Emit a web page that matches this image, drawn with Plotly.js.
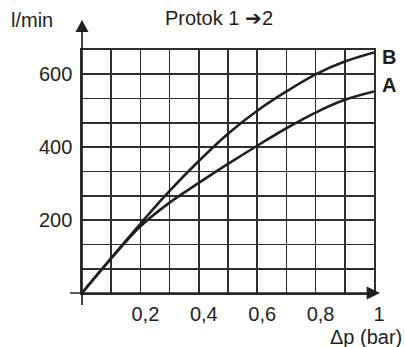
<!DOCTYPE html>
<html>
<head>
<meta charset="utf-8">
<script src="https://cdn.plot.ly/plotly-3.0.1.min.js"></script>
<style>html,body{margin:0;padding:0;background:#fff;}#chart{width:405px;height:347px;}</style>
</head>
<body>
<div id="chart"></div>
<script>
// Pressure drop (bar)
const dp = [0, 0.1, 0.2, 0.3, 0.4, 0.5, 0.6, 0.7, 0.8, 0.9, 1.0];
// Flow curve A (l/min)
const flowA = [0, 95, 183, 248, 302, 354, 404, 452, 495, 530, 553];
// Flow curve B (l/min)
const flowB = [0, 96, 190, 280, 362, 437, 500, 553, 600, 635, 660];
const seriesNames = ['A', 'B'];
// Tick labels
const xTickVals = [0.2, 0.4, 0.6, 0.8, 1];
const xTickText = ['0,2', '0,4', '0,6', '0,8', '1'];
const yTickVals = [200, 400, 600];
const yTickText = ['200', '400', '600'];
const yMax = 2000 / 3;

const ink = '#231f20';
const gridCol = '#2e2e2e';
const font = 'Liberation Sans, Arial, sans-serif';
const fs = 20;

const traces = [
  {x: dp, y: flowA, name: seriesNames[0], mode: 'lines', line: {color: ink, width: 2.6, shape: 'spline'}, cliponaxis: false},
  {x: dp, y: flowB, name: seriesNames[1], mode: 'lines', line: {color: ink, width: 2.6, shape: 'spline'}, cliponaxis: false}
];

const layout = {
  width: 405, height: 347,
  margin: {l: 82, r: 31, t: 50, b: 54},
  paper_bgcolor: '#fff', plot_bgcolor: '#fff',
  showlegend: false,
  font: {family: font, size: fs, color: ink},
  title: {text: 'Protok 1 \u27942', x: 219 / 405, xanchor: 'center', y: 1 - 18 / 347, yanchor: 'middle',
          font: {family: font, size: fs, color: ink}},
  xaxis: {
    range: [0, 1], tickmode: 'array', tickvals: xTickVals, ticktext: xTickText,
    showgrid: true, gridcolor: gridCol, gridwidth: 1.7,
    minor: {tickmode: 'linear', tick0: 0, dtick: 0.1, showgrid: true, gridcolor: gridCol, gridwidth: 1.7, ticks: ''},
    showline: true, mirror: true, linecolor: gridCol, linewidth: 1.7,
    zeroline: false, ticks: '', ticklabelstandoff: 2, ticklabelshift: 5,
    tickfont: {family: font, size: fs, color: ink}, fixedrange: true
  },
  yaxis: {
    range: [0, yMax], tickmode: 'array', tickvals: yTickVals, ticktext: yTickText,
    showgrid: true, gridcolor: gridCol, gridwidth: 1.7,
    minor: {tickmode: 'linear', tick0: 0, dtick: yMax / 10, showgrid: true, gridcolor: gridCol, gridwidth: 1.7, ticks: ''},
    showline: true, mirror: true, linecolor: gridCol, linewidth: 1.7,
    zeroline: false, ticks: '', ticklabelstandoff: 4,
    tickfont: {family: font, size: fs, color: ink}, fixedrange: true
  },
  shapes: [
    {type: 'line', xref: 'paper', yref: 'paper', x0: 0, x1: 0, y0: -0.049, y1: 1.08, line: {color: ink, width: 1.7}},
    {type: 'path', xref: 'paper', yref: 'paper', path: 'M -0.0223 1.074 L 0.0223 1.074 L 0 1.1235 Z', fillcolor: ink, line: {color: ink, width: 0}},
    {type: 'line', xref: 'paper', yref: 'paper', x0: -0.041, x1: 0.98, y0: 0, y1: 0, line: {color: ink, width: 1.7}},
    {type: 'path', xref: 'paper', yref: 'paper', path: 'M 0.975 -0.0267 L 0.975 0.0267 L 1.0205 0 Z', fillcolor: ink, line: {color: ink, width: 0}}
  ],
  annotations: [
    {text: 'l/min', xref: 'paper', yref: 'paper', x: -0.171, y: 1.123, xanchor: 'center', yanchor: 'middle', showarrow: false, font: {family: font, size: fs, color: ink}},
    {text: '\u0394p (bar)', xref: 'paper', yref: 'paper', x: 0.972, y: -0.181, xanchor: 'center', yanchor: 'middle', showarrow: false, font: {family: font, size: fs, color: ink}},
    {text: '<b>' + seriesNames[1] + '</b>', xref: 'x', yref: 'y', x: dp[dp.length - 1], y: flowB[flowB.length - 1], xanchor: 'left', yanchor: 'middle', xshift: 6, yshift: -5, showarrow: false, font: {family: font, size: fs, color: ink}},
    {text: '<b>' + seriesNames[0] + '</b>', xref: 'x', yref: 'y', x: dp[dp.length - 1], y: flowA[flowA.length - 1], xanchor: 'left', yanchor: 'middle', xshift: 6, yshift: 6, showarrow: false, font: {family: font, size: fs, color: ink}}
  ]
};

Plotly.newPlot('chart', traces, layout, {staticPlot: true, displayModeBar: false});
</script>
</body>
</html>
